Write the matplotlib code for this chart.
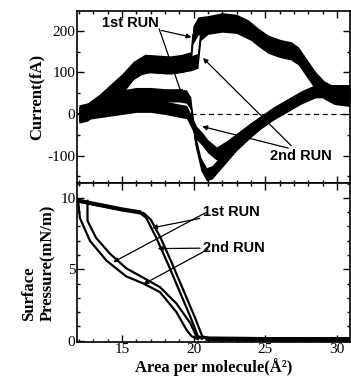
import matplotlib
matplotlib.use("Agg")
import matplotlib.pyplot as plt
from matplotlib.ticker import MultipleLocator

plt.rcParams["axes.unicode_minus"] = False

# ---- top panel: current traces (area in A^2, current in fA), drawn as noise bands
run1_up_x = [12.0, 12.6, 13.4, 14.2, 15.0, 15.8, 16.6, 17.5, 18.4, 19.2, 19.8, 19.95,
             20.3, 21.0, 22.0, 23.0, 23.8, 24.5, 25.2, 26.0, 26.8, 27.3, 27.9, 28.5,
             29.1, 29.8, 30.9]
run1_up_y = [0, 5, 25, 50, 75, 105, 122, 120, 118, 122, 128, 190,
             212, 215, 222, 218, 205, 185, 168, 158, 152, 140, 110, 80,
             58, 45, 40]
run2_up_x = [12.0, 13.0, 14.0, 15.0, 16.0, 17.0, 18.0, 19.0, 19.8, 20.3, 20.5,
             21.0, 22.0, 23.0, 24.0]
run2_up_y = [0, 10, 40, 65, 110, 118, 115, 118, 122, 128, 195,
             210, 215, 212, 195]

run1_down_x = [12.0, 13.0, 14.0, 15.0, 16.0, 17.0, 18.0, 19.0, 19.5, 19.8, 20.1,
               20.5, 20.9, 21.3, 22.0, 23.0, 24.0, 24.6, 25.5, 26.5, 27.5, 28.5,
               29.5, 30.9]
run1_down_y = [0, 12, 28, 42, 48, 48, 45, 45, 42, 25, -60,
               -120, -145, -140, -112, -72, -40, -22, 0, 20, 40, 55,
               55, 55]
run2_down_x = [12.0, 13.0, 14.0, 15.0, 16.0, 17.0, 18.0, 19.0, 19.5, 19.8, 20.2,
               20.6, 21.0, 21.6, 22.3, 23.0, 24.0, 24.6]
run2_down_y = [0, 5, 10, 15, 20, 20, 15, 8, 5, -15, -45,
               -60, -78, -95, -80, -62, -36, -22]

band_half = [22, 18, 16, 16]

# ---- bottom panel: surface pressure isotherms (mN/m)
comp1_x = [30.9, 25.0, 21.0, 20.3, 19.8, 19.0, 18.2, 17.4, 16.7, 16.2, 15.0, 14.0, 13.0, 12.0]
comp1_y = [0.08, 0.08, 0.12, 0.3, 1.6, 3.5, 5.4, 7.2, 8.6, 9.0, 9.2, 9.4, 9.6, 9.8]
comp2_x = [30.9, 25.0, 21.2, 20.6, 20.1, 19.3, 18.5, 17.7, 17.0, 16.5, 15.0, 14.0, 13.0, 12.0]
comp2_y = [0.1, 0.1, 0.14, 0.3, 1.6, 3.5, 5.4, 7.2, 8.5, 8.95, 9.15, 9.35, 9.55, 9.75]
exp_outer_x = [11.95, 12.07, 12.77, 13.93, 15.3, 16.5, 17.65, 18.8, 19.5, 19.86, 20.3]
exp_outer_y = [9.8, 8.6, 7.0, 5.6, 4.5, 4.0, 3.4, 2.0, 0.76, 0.3, 0.1]
exp_inner_x = [12.6, 12.6, 13.2, 14.16, 15.3, 16.5, 17.65, 18.8, 19.75, 20.2, 20.6]
exp_inner_y = [9.8, 8.4, 7.2, 6.1, 5.07, 4.4, 3.75, 2.6, 1.25, 0.3, 0.12]

serif = "Liberation Serif"
sans = "Liberation Sans"

fig = plt.figure(figsize=(3.51, 3.81), dpi=100)
ax1 = fig.add_axes([0.219, 0.5197, 0.778, 0.4514])
ax2 = fig.add_axes([0.219, 0.1024, 0.778, 0.4173])

traces = [(run1_up_x, run1_up_y), (run2_up_x, run2_up_y),
          (run1_down_x, run1_down_y), (run2_down_x, run2_down_y)]
for (tx, ty), hw in zip(traces, band_half):
    lo = [v - hw for v in ty]
    hi = [v + hw for v in ty]
    ax1.fill_between(tx, lo, hi, color="black", lw=0)
    ax1.plot(tx, ty, color="black", lw=1)
ax1.plot([19.8, 30.9], [0, 0], color="black", lw=0.9, ls=(0, (4, 3)))

ax1.set_xlim(11.86, 30.9)
ax1.set_ylim(-166, 248)
ax1.set_yticks([-100, 0, 100, 200])
ax1.yaxis.set_minor_locator(MultipleLocator(50))
ax1.set_ylabel("Current(fA)", family=serif, weight="bold", fontsize=12, labelpad=2)
ax1.tick_params(labelbottom=False)

arrow = dict(arrowstyle="-|>", color="black", lw=0.9, mutation_scale=7, shrinkA=0, shrinkB=0)
ax1.annotate("1st RUN", xy=(19.85, 185), xytext=(15.6, 218), family=sans,
             weight="bold", fontsize=10.5, ha="center", va="center", arrowprops=arrow)
ax1.annotate("", xy=(19.2, 45), xytext=(17.6, 205), arrowprops=arrow)
ax1.annotate("2nd RUN", xy=(20.65, 135), xytext=(27.5, -100), family=sans,
             weight="bold", fontsize=10.5, ha="center", va="center", arrowprops=arrow)
ax1.annotate("", xy=(20.6, -30), xytext=(26.6, -82), arrowprops=arrow)

for x, y in [(comp1_x, comp1_y), (comp2_x, comp2_y),
             (exp_outer_x, exp_outer_y), (exp_inner_x, exp_inner_y)]:
    ax2.plot(x, y, color="black", lw=1.6)
ax2.plot(comp1_x[:3], comp1_y[:3], color="black", lw=3.5)
ax2.plot(comp1_x[-5:], comp1_y[-5:], color="black", lw=3)

ax2.set_xlim(11.86, 30.9)
ax2.set_ylim(-0.1, 11.05)
ax2.set_xticks([15, 20, 25, 30])
ax2.set_yticks([0, 5, 10])
ax2.yaxis.set_minor_locator(MultipleLocator(1))
ax2.set_xlabel("Area per molecule(Å²)", family=serif, weight="bold", fontsize=12, labelpad=1)
ax2.set_ylabel("Surface\nPressure(mN/m)", family=serif, weight="bold", fontsize=12,
               multialignment="left", labelpad=3, linespacing=1.25)

ax2.annotate("1st RUN", xy=(17.1, 7.9), xytext=(22.6, 9.0), family=sans,
             weight="bold", fontsize=10.5, ha="center", va="center", arrowprops=arrow)
ax2.annotate("", xy=(14.4, 5.5), xytext=(20.9, 9.0), arrowprops=arrow)
ax2.annotate("2nd RUN", xy=(17.5, 6.45), xytext=(22.8, 6.5), family=sans,
             weight="bold", fontsize=10.5, ha="center", va="center", arrowprops=arrow)
ax2.annotate("", xy=(16.5, 3.95), xytext=(21.0, 6.4), arrowprops=arrow)

for ax in (ax1, ax2):
    ax.xaxis.set_minor_locator(MultipleLocator(1))
    ax.tick_params(which="both", direction="in", top=True, right=True, width=1)
    ax.tick_params(which="major", length=5, labelsize=11, pad=1)
    ax.tick_params(which="minor", length=2.5)
    for lab in ax.get_xticklabels() + ax.get_yticklabels():
        lab.set_family(serif)
    for s in ax.spines.values():
        s.set_linewidth(1.2)

fig.savefig("out.png", dpi=100)
